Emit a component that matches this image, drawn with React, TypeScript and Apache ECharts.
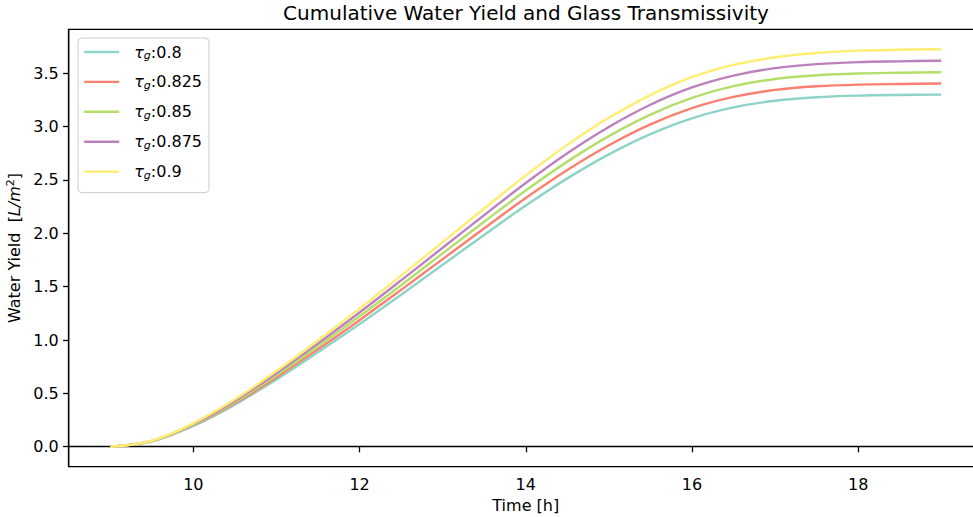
import React, { useEffect, useRef } from "react";
import * as echarts from "echarts";

const TIME_H = [9, 9.5, 10, 10.5, 11, 11.5, 12, 12.5, 13, 13.5, 14, 14.5, 15, 15.5, 16, 16.5, 17, 17.5, 18, 18.5, 19];
const TAU_LABELS = ["0.8", "0.825", "0.85", "0.875", "0.9"];
const YIELD_080 = [0, 0.05, 0.195, 0.395, 0.63, 0.885, 1.15, 1.425, 1.705, 1.985, 2.26, 2.515, 2.74, 2.93, 3.078, 3.18, 3.243, 3.276, 3.291, 3.297, 3.3];
const YIELD_0825 = [0, 0.052, 0.201, 0.407, 0.65, 0.913, 1.186, 1.47, 1.758, 2.047, 2.331, 2.594, 2.826, 3.022, 3.174, 3.279, 3.344, 3.378, 3.394, 3.4, 3.404];
const YIELD_085 = [0, 0.053, 0.207, 0.42, 0.669, 0.94, 1.222, 1.514, 1.812, 2.109, 2.401, 2.672, 2.911, 3.113, 3.27, 3.379, 3.446, 3.481, 3.498, 3.505, 3.51];
const YIELD_0875 = [0, 0.055, 0.213, 0.432, 0.689, 0.968, 1.258, 1.559, 1.865, 2.171, 2.472, 2.751, 2.997, 3.205, 3.367, 3.478, 3.548, 3.586, 3.605, 3.612, 3.618];
const YIELD_090 = [0, 0.056, 0.219, 0.444, 0.709, 0.996, 1.294, 1.603, 1.918, 2.233, 2.543, 2.829, 3.083, 3.296, 3.463, 3.578, 3.65, 3.69, 3.712, 3.72, 3.725];
const X_TICKS = [10, 12, 14, 16, 18];
const Y_TICKS = [0, 0.5, 1, 1.5, 2, 2.5, 3, 3.5];
const COLORS = ["#8dd3c7", "#fb8072", "#b3de69", "#bc80bd", "#ffed6f"];

const SERIES_VALUES = [YIELD_080, YIELD_0825, YIELD_085, YIELD_0875, YIELD_090];
const FONT = "DejaVu Sans";

export default function App() {
  const ref = useRef<HTMLDivElement>(null);
  useEffect(() => {
    if (!ref.current) return;
    const chart = echarts.init(ref.current, null, { renderer: "svg" });
    const all = SERIES_VALUES.flat();
    const yMaxD = Math.max(...all);
    const yMinD = Math.min(...all);
    const yPad = 0.05 * (yMaxD - yMinD);
    const xMinD = Math.min(...TIME_H);
    const xMaxD = Math.max(...TIME_H);
    const xPad = 0.05 * (xMaxD - xMinD);
    const names = TAU_LABELS.map((t) => "τg:" + t);

    chart.setOption({
      animation: false,
      backgroundColor: "#fff",
      textStyle: { fontFamily: FONT },
      title: {
        text: "Cumulative Water Yield and Glass Transmissivity",
        left: 526,
        top: 3,
        padding: 0,
        textAlign: "center",
        textStyle: { fontFamily: FONT, fontSize: 20, fontWeight: "normal", color: "#000" },
      },
      legend: {
        orient: "vertical",
        left: 78,
        top: 38,
        padding: [5, 7, 12, 5],
        itemWidth: 35,
        itemHeight: 20,
        itemGap: 11.9,
        backgroundColor: "rgba(255,255,255,0.8)",
        borderColor: "#cccccc",
        borderWidth: 1,
        borderRadius: 4,
        itemStyle: { opacity: 0 },
        lineStyle: { width: 2.4 },
        data: names,
        formatter: (n: string) => "{i|τ}{s|g}{t|:" + n.split(":")[1] + "}",
        textStyle: {
          fontFamily: FONT,
          fontSize: 16,
          color: "#000",
          padding: [0, 0, 0, 10],
          rich: {
            i: { fontFamily: FONT, fontSize: 16, fontStyle: "italic", color: "#000", lineHeight: 20 },
            s: { fontFamily: FONT, fontSize: 11, fontStyle: "italic", color: "#000", padding: [7, 0, 0, 0], lineHeight: 20 },
            t: { fontFamily: FONT, fontSize: 16, color: "#000", lineHeight: 20 },
          },
        },
      },
      grid: {
        left: 68.7,
        right: -9.8,
        top: 29.4,
        bottom: 50.4,
        containLabel: false,
        outerBoundsMode: "none",
        show: true,
        borderColor: "#000",
        borderWidth: 1.3,
        backgroundColor: "transparent",
      },
      xAxis: {
        type: "value",
        min: xMinD - xPad,
        max: xMaxD + xPad,
        name: "Time [h]",
        nameLocation: "middle",
        nameGap: 30,
        nameTextStyle: { fontFamily: FONT, fontSize: 16, color: "#000" },
        splitLine: { show: false },
        axisLine: { show: true, lineStyle: { color: "#000", width: 1.3 } },
        axisTick: { show: true, length: 5.6, customValues: X_TICKS, lineStyle: { color: "#000", width: 1.3 } },
        axisLabel: { customValues: X_TICKS, margin: 10, fontFamily: FONT, fontSize: 16, color: "#000", formatter: (v: number) => String(v) },
      },
      yAxis: {
        type: "value",
        min: yMinD - yPad,
        max: yMaxD + yPad,
        name: "Water Yield  [{it|L/m}{sup|2}]",
        nameLocation: "middle",
        nameRotate: 90,
        nameGap: 36,
        nameTextStyle: {
          fontFamily: FONT,
          fontSize: 16,
          color: "#000",
          rich: {
            it: { fontFamily: FONT, fontSize: 16, fontStyle: "italic", color: "#000" },
            sup: { fontFamily: FONT, fontSize: 11, color: "#000", padding: [0, 0, 8, 0] },
          },
        },
        splitLine: { show: false },
        axisLine: { show: true, lineStyle: { color: "#000", width: 1.3 } },
        axisTick: { show: true, length: 5.6, customValues: Y_TICKS, lineStyle: { color: "#000", width: 1.3 } },
        axisLabel: { customValues: Y_TICKS, margin: 10, fontFamily: FONT, fontSize: 16, color: "#000", formatter: (v: number) => v.toFixed(1) },
      },
      series: SERIES_VALUES.map((vals, k) => ({
        name: names[k],
        type: "line",
        symbol: "none",
        smooth: 0.35,
        data: TIME_H.map((t, i) => [t, vals[i]]),
        lineStyle: { color: COLORS[k], width: 2.4 },
        itemStyle: { color: COLORS[k] },
      })),
    });
    return () => chart.dispose();
  }, []);
  return <div ref={ref} style={{ position: "fixed", left: 0, top: 0, width: 973, height: 517 }} />;
}
